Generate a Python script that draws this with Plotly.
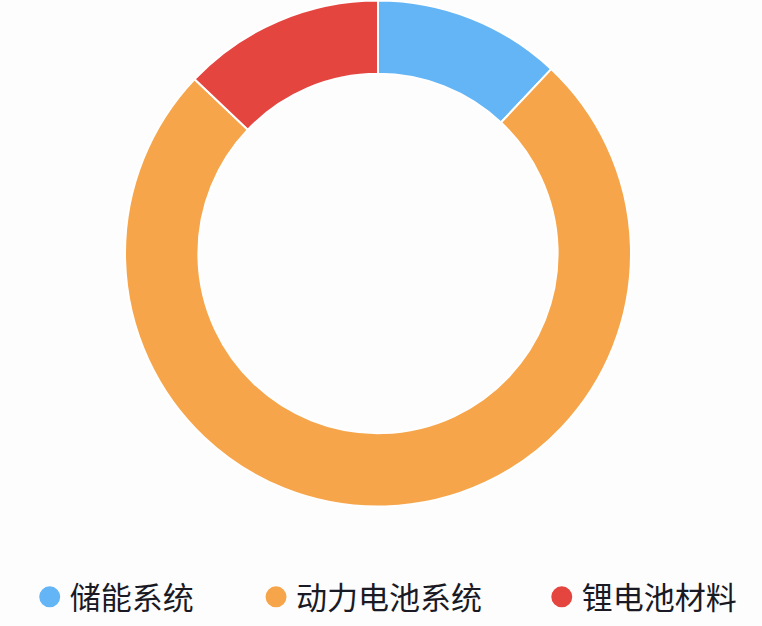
import plotly.graph_objects as go

labels = ['储能系统', '动力电池系统', '锂电池材料']
values = [12.0, 75.1, 12.9]
colors = ['#64B5F6', '#F7A54A', '#E5453F']

fig = go.Figure()

fig.add_trace(go.Pie(labels=labels, values=values, hole=0.71, sort=False,
                     direction='clockwise', rotation=0,
                     marker=dict(colors=colors, line=dict(color='white', width=2)),
                     textinfo='none', hoverinfo='label+percent', showlegend=False,
                     domain=dict(x=[125 / 762, 631 / 762], y=[119 / 626, 1])))

# legend entries as dummy scatter traces so the symbols are round
legend_names = ['legend', 'legend2', 'legend3']
legend_x = [0.039, 0.336, 0.711]
for name, col, lg in zip(labels, colors, legend_names):
    fig.add_trace(go.Scatter(x=[None], y=[None], mode='markers', name=name,
                             marker=dict(color=col, size=16, line=dict(color=col, width=5)),
                             legend=lg))

legend_style = dict(orientation='h', yanchor='middle', y=0.046, xanchor='left',
                    font=dict(size=31, color='#1a1a24', family='Noto Sans CJK SC'),
                    bgcolor='rgba(0,0,0,0)')
fig.update_layout(
    width=762, height=626,
    margin=dict(l=0, r=0, t=0, b=0),
    paper_bgcolor='#fdfdfe', plot_bgcolor='#fdfdfe',
    xaxis=dict(visible=False), yaxis=dict(visible=False),
    legend=dict(x=legend_x[0], **legend_style),
    legend2=dict(x=legend_x[1], **legend_style),
    legend3=dict(x=legend_x[2], **legend_style),
)

# drop the page's default body margin so the figure fills the window
fig.write_html("out.html", config={'displayModeBar': False},
               post_script="document.body.style.margin='0px';")
